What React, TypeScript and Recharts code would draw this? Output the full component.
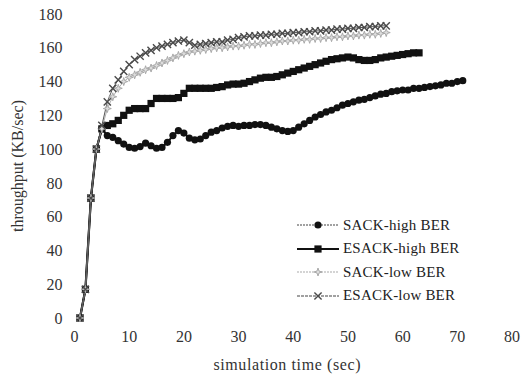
import React from 'react';
import { Label, Legend, Line, LineChart, XAxis, YAxis } from 'recharts';

const times = [
  1, 2, 3, 4, 5, 6, 7, 8, 9, 10,
  11, 12, 13, 14, 15, 16, 17, 18, 19, 20,
  21, 22, 23, 24, 25, 26, 27, 28, 29, 30,
  31, 32, 33, 34, 35, 36, 37, 38, 39, 40,
  41, 42, 43, 44, 45, 46, 47, 48, 49, 50,
  51, 52, 53, 54, 55, 56, 57, 58, 59, 60,
  61, 62, 63, 64, 65, 66, 67, 68, 69, 70,
  71,
];

const sackHigh = [
  0, 17, 71, 100, 112, 108, 107, 105, 103, 101,
  100.5, 101.5, 103.5, 102, 100.5, 101, 104, 108, 111, 109.5,
  106.5, 105.5, 106, 108, 110, 111, 112.5, 113.5, 114, 113.5,
  114, 114, 114.5, 114.5, 114, 113, 112, 111, 110.5, 111,
  113, 115, 117, 119, 120.5, 122, 123, 124.5, 126, 127,
  128, 129, 129.5, 130.5, 131.5, 132.5, 133, 134, 134.5, 135,
  135, 136, 136, 136.5, 137, 137.5, 138, 139, 139, 140,
  140.5,
];

const esackHigh = [
  0, 17, 71, 100, 112, 114, 115, 117, 120, 123,
  124, 124, 124, 127, 130, 130, 130, 130, 130.5, 133,
  136, 136, 136, 136, 136, 136.5, 137, 138, 138.5, 138.5,
  139, 140, 141, 142, 142.5, 142.5, 143, 144, 145, 146,
  147, 148, 149, 150, 151, 152, 153, 153.5, 154, 154.5,
  154, 153, 152.5, 152.5, 153, 154, 154.5, 155, 155.5, 156,
  156.5, 157, 157,
];

const sackLow = [
  0, 17, 71, 100, 112, 124, 131, 136, 140, 142.5,
  144, 145.5, 147, 148, 149.5, 151, 152.5, 154, 155.5, 156.5,
  157.5, 158, 158.5, 159, 159.5, 160, 160, 160.5, 161, 161,
  161.5, 162, 162, 162.5, 163, 163, 163.5, 164, 164, 164.5,
  164.5, 165, 165, 165.5, 165.5, 166, 166, 166.5, 166.5, 167,
  167, 167.5, 167.5, 168, 168, 168.5, 169,
];

const esackLow = [
  0, 17, 71, 100, 114, 128, 136, 141, 146, 150,
  153, 155, 157, 158.5, 160, 161, 162, 163, 164, 164.5,
  163, 161.5, 162, 162.5, 163, 163.5, 163.5, 164.5, 165, 166,
  166.5, 167, 167, 167.5, 167.5, 168, 168, 168.5, 168.5, 169,
  169, 169.5, 169.5, 170, 170, 170.5, 170.5, 171, 171, 171.5,
  171.5, 172, 172, 172.5, 172.5, 173, 173,
];

const xTicks = [0, 10, 20, 30, 40, 50, 60, 70, 80];
const yTicks = [0, 20, 40, 60, 80, 100, 120, 140, 160, 180];

const seriesNames = ['SACK-high BER', 'ESACK-high BER', 'SACK-low BER', 'ESACK-low BER'];

const data = times.map((t, i) => ({
  t,
  sackHigh: sackHigh[i] ?? null,
  esackHigh: esackHigh[i] ?? null,
  sackLow: sackLow[i] ?? null,
  esackLow: esackLow[i] ?? null,
}));

const font = '"Liberation Serif", "Times New Roman", serif';
const axisText = { fill: '#333', fontSize: 16, fontFamily: font };

function Marker({ kind, cx, cy }: { kind: number; cx: number; cy: number }) {
  if (kind === 0) return <circle cx={cx} cy={cy} r={3.6} fill="#111" />;
  if (kind === 1) return <rect x={cx - 3.6} y={cy - 3.6} width={7.2} height={7.2} fill="#111" />;
  if (kind === 2)
    return (
      <path
        d={`M${cx - 4},${cy} L${cx - 1},${cy - 1} L${cx},${cy - 4} L${cx + 1},${cy - 1} L${cx + 4},${cy} L${cx + 1},${cy + 1} L${cx},${cy + 4} L${cx - 1},${cy + 1} Z`}
        fill="#ddd"
        stroke="#a4a4a4"
        strokeWidth={0.9}
      />
    );
  return (
    <path
      d={`M${cx - 3.6},${cy - 3.6} L${cx + 3.6},${cy + 3.6} M${cx - 3.6},${cy + 3.6} L${cx + 3.6},${cy - 3.6}`}
      stroke="#4a4a4a"
      strokeWidth={1.4}
    />
  );
}

const makeDot = (kind: number) => (props: any) => {
  const { cx, cy, value, index } = props;
  if (value == null || cy == null || cx == null) return <g key={`d${kind}-${index}`} />;
  return (
    <g key={`d${kind}-${index}`}>
      <Marker kind={kind} cx={cx} cy={cy} />
    </g>
  );
};

const legendStroke = ['#444', '#111', '#aaa', '#444'];

function LegendBox() {
  return (
    <div style={{ fontFamily: font, fontSize: 15, color: '#222', letterSpacing: 0.2 }}>
      {seriesNames.map((name, k) => (
        <div key={name} style={{ display: 'flex', alignItems: 'center', height: 23.5 }}>
          <svg width={44} height={12} style={{ marginRight: 3 }}>
            <line
              x1={1}
              y1={6}
              x2={43}
              y2={6}
              stroke={legendStroke[k]}
              strokeWidth={k === 1 ? 1.8 : 1.1}
              strokeDasharray={k === 0 || k === 2 ? '2 1' : k === 3 ? '3 1' : undefined}
            />
            <Marker kind={k} cx={22} cy={6} />
          </svg>
          <span>{name}</span>
        </div>
      ))}
    </div>
  );
}

export default function App() {
  return (
    <div style={{ position: 'absolute', left: 0, top: 0, width: 532, height: 384, background: '#fff' }}>
      <LineChart width={532} height={384} data={data} margin={{ top: 14, right: 20, bottom: 20, left: 0 }}>
        <XAxis
          dataKey="t"
          type="number"
          domain={[0, 80]}
          ticks={xTicks}
          axisLine={false}
          tickLine={false}
          tickSize={0}
          tickMargin={13}
          height={46}
          tick={axisText}
        >
          <Label
            value="simulation time (sec)"
            position="insideBottom"
            offset={-6}
            dx={-6}
            style={{ ...axisText, letterSpacing: 0.6 }}
          />
        </XAxis>
        <YAxis
          type="number"
          domain={[0, 180]}
          ticks={yTicks}
          axisLine={false}
          tickLine={false}
          tickSize={0}
          tickMargin={12}
          width={74.5}
          tick={axisText}
        >
          <Label
            value="throughput (KB/sec)"
            angle={-90}
            position="center"
            dx={-20}
            style={{ ...axisText, textAnchor: 'middle' }}
          />
        </YAxis>
        <Legend
          layout="horizontal"
          verticalAlign="middle"
          align="center"
          content={() => <LegendBox />}
          wrapperStyle={{ position: 'absolute', left: 296, top: 213.5, width: 210 }}
        />
        <Line dataKey="sackHigh" stroke="#111" strokeWidth={2} dot={makeDot(0)} isAnimationActive={false} />
        <Line dataKey="esackHigh" stroke="#111" strokeWidth={2.2} dot={makeDot(1)} isAnimationActive={false} />
        <Line dataKey="sackLow" stroke="#b0b0b0" strokeWidth={1} dot={makeDot(2)} isAnimationActive={false} />
        <Line dataKey="esackLow" stroke="#555" strokeWidth={1} dot={makeDot(3)} isAnimationActive={false} />
      </LineChart>
    </div>
  );
}
